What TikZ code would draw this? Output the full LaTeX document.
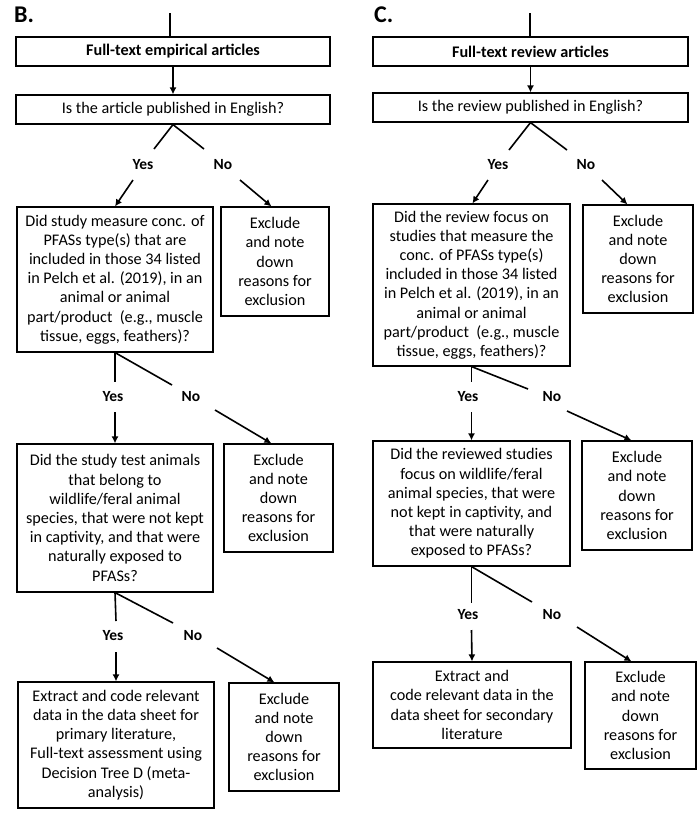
\documentclass[tikz,border=0pt]{standalone}
\usepackage{fontspec}
\setmainfont{Carlito}
\usetikzlibrary{arrows.meta,calc}
\begin{document}
\begin{tikzpicture}[x=1pt,y=-1pt,
 box/.style={draw,line width=1.15pt,inner sep=0pt,align=center,font=\fontsize{16.2}{19.2}\selectfont},
 lab/.style={font=\bfseries\fontsize{15.5}{18}\selectfont,inner sep=1pt},
 ttl/.style={font=\bfseries\fontsize{24}{26}\selectfont,inner sep=0pt,anchor=west},
 ln/.style={line width=1.6pt},
 arr/.style={line width=1.6pt,-{Latex[length=7pt,width=7pt]}}]
\useasboundingbox (0,0) rectangle (700,815);
% ---------------- B ----------------
\node[ttl] (tb) at (14,15) {B.};
\node[box,minimum width=314pt,minimum height=29pt] (b1) at (173,51.5) {\textbf{Full-text empirical articles}};
\node[box,minimum width=314pt,minimum height=29pt] (b2) at (173,109.5) {Is the article published in English?};
\node[box,minimum width=196pt,minimum height=145pt] (q1) at (115,279.5) {Did study measure conc. of\\PFASs type(s) that are\\included in those 34 listed\\in Pelch et al. (2019), in an\\animal or animal\\part/product\ \ (e.g., muscle\\tissue, eggs, feathers)?};
\node[box,minimum width=108pt,minimum height=109pt] (e1) at (275,261.5) {Exclude\\and note\\down\\reasons for\\exclusion};
\node[box,minimum width=196pt,minimum height=148pt] (q2) at (115,518) {Did the study test animals\\that belong to\\wildlife/feral animal\\species, that were not kept\\in captivity, and that were\\naturally exposed to\\PFASs?};
\node[box,minimum width=109pt,minimum height=108pt] (e2) at (278.5,498) {Exclude\\and note\\down\\reasons for\\exclusion};
\node[box,minimum width=196pt,minimum height=126pt] (r1) at (116,745) {Extract and code relevant\\data in the data sheet for\\primary literature,\\Full-text assessment using\\Decision Tree D (meta-\\analysis)};
\node[box,minimum width=110pt,minimum height=108pt] (e3) at (284,737) {Exclude\\and note\\down\\reasons for\\exclusion};
% labels
\node[lab] (yb1) at (143,165) {Yes};
\node[lab] (nb1) at (223,165) {No};
\node[lab] (yb2) at (113,397) {Yes};
\node[lab] (nb2) at (191,397) {No};
\node[lab] (yb3) at (113,636) {Yes};
\node[lab] (nb3) at (193,636) {No};
% coordinates
\coordinate (tb0) at (170,13);
\coordinate (bys1) at (154,149);
\coordinate (bns1) at (204,149);
\coordinate (bya1) at (133,180);
\coordinate (bna1) at (240,180);
\coordinate (bys2) at (115,382);
\coordinate (bns2) at (172,385);
\coordinate (bya2) at (115,412);
\coordinate (bna2) at (215,410);
\coordinate (bys3) at (116,621);
\coordinate (bns3) at (173,623);
\coordinate (bya3) at (116,652);
\coordinate (bna3) at (217,648);
% connectors
\draw[ln] (tb0) -- (tb0 |- b1.north);
\draw[arr] (b1) -- (b2);
\draw[ln] (b2.south) -- (bys1);
\draw[ln] (b2.south) -- (bns1);
\draw[arr] (bya1) -- (q1.north);
\draw[arr] (bna1) -- ($(e1.north west)+(51,0)$);
\draw[ln] (q1.south) -- (bys2);
\draw[ln] (q1.south) -- (bns2);
\draw[arr] (bya2) -- (q2.north);
\draw[arr] (bna2) -- ($(e2.north west)+(48,0)$);
\draw[ln] (q2.south) -- (bys3);
\draw[ln] (q2.south) -- (bns3);
\draw[arr] (bya3) -- (r1.north);
\draw[arr] (bna3) -- ($(e3.north west)+(46,0)$);
% ---------------- C ----------------
\node[ttl] (tc) at (374,15) {C.};
\node[box,minimum width=315pt,minimum height=29pt] (c1) at (530.5,51.5) {\textbf{Full-text review articles}};
\node[box,minimum width=315pt,minimum height=29pt] (c2) at (530.5,107.5) {Is the review published in English?};
\node[box,minimum width=197pt,minimum height=162pt] (p1) at (471.5,285) {Did the review focus on\\studies that measure the\\conc. of PFASs type(s)\\included in those 34 listed\\in Pelch et al. (2019), in an\\animal or animal\\part/product\ \ (e.g., muscle\\tissue, eggs, feathers)?};
\node[box,minimum width=110pt,minimum height=108pt] (f1) at (638,259) {Exclude\\and note\\down\\reasons for\\exclusion};
\node[box,minimum width=197pt,minimum height=125pt] (p2) at (471.5,503.5) {Did the reviewed studies\\focus on wildlife/feral\\animal species, that were\\not kept in captivity, and\\that were naturally\\exposed to PFASs?};
\node[box,minimum width=110pt,minimum height=109pt] (f2) at (637,495.5) {Exclude\\and note\\down\\reasons for\\exclusion};
\node[box,minimum width=198pt,minimum height=86pt] (s1) at (472,705) {Extract and\\code relevant data in the\\data sheet for secondary\\literature};
\node[box,minimum width=111pt,minimum height=107pt] (f3) at (640.5,715.5) {Exclude\\and note\\down\\reasons for\\exclusion};
% labels
\node[lab] (yc1) at (498,165) {Yes};
\node[lab] (nc1) at (586,165) {No};
\node[lab] (yc2) at (468,397) {Yes};
\node[lab] (nc2) at (552,397) {No};
\node[lab] (yc3) at (468,615) {Yes};
\node[lab] (nc3) at (552,615) {No};
% coordinates
\coordinate (tc0) at (530,13);
\coordinate (cys1) at (509,150);
\coordinate (cns1) at (567,150);
\coordinate (cya1) at (488,180);
\coordinate (cna1) at (602,180);
\coordinate (cys2) at (471.5,382);
\coordinate (cns2) at (528,389);
\coordinate (cya2) at (471.5,412);
\coordinate (cna2) at (567,411);
\coordinate (cys3) at (471.5,603);
\coordinate (cns3) at (532,602);
\coordinate (cya3) at (471.5,630);
\coordinate (cna3) at (577,627);
% connectors
\draw[ln] (tc0) -- (tc0 |- c1.north);
\draw[arr] (c1) -- (c2);
\draw[ln] (c2.south) -- (cys1);
\draw[ln] (c2.south) -- (cns1);
\draw[arr] (cya1) -- ($(p1.north west)+(100,0)$);
\draw[arr] (cna1) -- ($(f1.north west)+(45,0)$);
\draw[ln] (p1.south) -- (cys2);
\draw[ln] (p1.south) -- (cns2);
\draw[arr] (cya2) -- (p2.north);
\draw[arr] (cna2) -- ($(f2.north west)+(50,0)$);
\draw[ln] (p2.south) -- (cys3);
\draw[ln] (p2.south) -- (cns3);
\draw[arr] (cya3) -- (s1.north);
\draw[arr] (cna3) -- ($(f3.north west)+(47,0)$);
\end{tikzpicture}
\end{document}
